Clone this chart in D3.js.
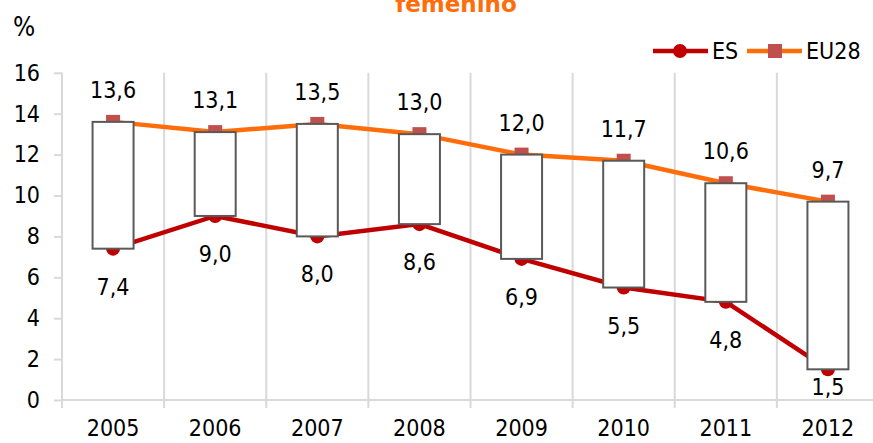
<!DOCTYPE html>
<html>
<head>
<meta charset="utf-8">
<script src="https://cdn.jsdelivr.net/npm/d3@7"></script>
<style>
  body { margin: 0; background: #fff; }
  svg { display: block; }
  text { font-family: 'DejaVu Sans Condensed', 'DejaVu Sans', sans-serif; fill: #000; }
</style>
</head>
<body>
<div id="chart"></div>
<script>
'use strict';

var years = ['2005', '2006', '2007', '2008', '2009', '2010', '2011', '2012'];
var esValues = [7.4, 9.0, 8.0, 8.6, 6.9, 5.5, 4.8, 1.5];
var eu28Values = [13.6, 13.1, 13.5, 13.0, 12.0, 11.7, 10.6, 9.7];
var yTicks = [0, 2, 4, 6, 8, 10, 12, 14, 16];

var width = 873;
var height = 443;
var plotLeft = 62;
var plotRight = 879;
var plotTop = 72.8;
var plotBottom = 400;

var esColor = '#C00000';
var eu28LineColor = '#FF6D0A';
var eu28MarkerColor = '#C0504D';
var gridColor = '#D9D9D9';
var boxStroke = '#595959';
var fontSize = 23;

var svg = d3.select('#chart').append('svg').attr('width', width).attr('height', height);

var x = d3.scaleBand().domain(years).range([plotLeft, plotRight]).padding(0);
var y = d3.scaleLinear().domain([0, 16]).range([plotBottom, plotTop]);
function cx(d) { return x(d) + x.bandwidth() / 2; }

// title, cut at the top like the original
svg.append('text').attr('x', 456).attr('y', 12).attr('text-anchor', 'middle')
  .style('font-family', "'DejaVu Sans', sans-serif").style('font-weight', 'bold')
  .style('font-size', fontSize + 'px').style('fill', '#FF6D0A').text('femenino');

svg.append('text').attr('x', 13).attr('y', 36).style('font-size', '26px').text('%');

// vertical gridlines between categories
var bounds = years.slice(1).map(function (d) { return x(d); });
svg.append('g').selectAll('line').data(bounds).enter().append('line')
  .attr('x1', function (d) { return d; }).attr('x2', function (d) { return d; })
  .attr('y1', plotTop).attr('y2', plotBottom + 8)
  .attr('stroke', gridColor).attr('stroke-width', 2);

// y axis
var yAxis = svg.append('g').attr('transform', 'translate(' + plotLeft + ',0)')
  .call(d3.axisLeft(y).tickValues(yTicks).tickSize(8).tickPadding(14).tickFormat(d3.format('d')));
yAxis.select('.domain').attr('stroke', gridColor).attr('stroke-width', 2).attr('d', 'M0,' + plotTop + 'V' + plotBottom);
yAxis.selectAll('.tick line').attr('stroke', gridColor).attr('stroke-width', 2);
yAxis.selectAll('.tick text').style('font-size', fontSize + 'px').attr('fill', '#000').attr('font-family', null);

// x axis
var xAxis = svg.append('g').attr('transform', 'translate(0,' + plotBottom + ')')
  .call(d3.axisBottom(x).tickSize(0).tickPadding(20));
xAxis.select('.domain').attr('stroke', gridColor).attr('stroke-width', 2).attr('d', 'M' + plotLeft + ',0H' + plotRight);
xAxis.selectAll('.tick text').style('font-size', fontSize + 'px').attr('fill', '#000').attr('font-family', null);
svg.append('line').attr('x1', plotLeft).attr('x2', plotLeft).attr('y1', plotBottom).attr('y2', plotBottom + 8)
  .attr('stroke', gridColor).attr('stroke-width', 2);

// lines
var line = function (vals) {
  return d3.line().x(function (d, i) { return cx(years[i]); }).y(function (d) { return y(d); })(vals);
};
svg.append('path').attr('d', line(eu28Values)).attr('fill', 'none').attr('stroke', eu28LineColor).attr('stroke-width', 4.5);
svg.append('path').attr('d', line(esValues)).attr('fill', 'none').attr('stroke', esColor).attr('stroke-width', 4.5);

// markers
svg.append('g').selectAll('rect').data(eu28Values).enter().append('rect')
  .attr('x', function (d, i) { return cx(years[i]) - 7; }).attr('y', function (d) { return y(d) - 7; })
  .attr('width', 14).attr('height', 14).attr('fill', eu28MarkerColor);
svg.append('g').selectAll('circle').data(esValues).enter().append('circle')
  .attr('cx', function (d, i) { return cx(years[i]); }).attr('cy', function (d) { return y(d); })
  .attr('r', 7).attr('fill', esColor);

// up-down bars
svg.append('g').selectAll('rect').data(years).enter().append('rect')
  .attr('x', function (d) { return cx(d) - 20.5; })
  .attr('y', function (d, i) { return y(Math.max(esValues[i], eu28Values[i])); })
  .attr('width', 41)
  .attr('height', function (d, i) { return Math.abs(y(esValues[i]) - y(eu28Values[i])); })
  .attr('fill', '#fff').attr('stroke', boxStroke).attr('stroke-width', 2);

// data labels (ES labels stay inside the plot area)
var fmt = function (v) { return v.toFixed(1).replace('.', ','); };
svg.append('g').selectAll('text').data(eu28Values).enter().append('text')
  .attr('x', function (d, i) { return cx(years[i]); }).attr('y', function (d) { return y(d) - 24; })
  .attr('text-anchor', 'middle').style('font-size', fontSize + 'px').text(fmt);
svg.append('g').selectAll('text').data(esValues).enter().append('text')
  .attr('x', function (d, i) { return cx(years[i]); }).attr('y', function (d) { return Math.min(y(d) + 46, plotBottom - 5); })
  .attr('text-anchor', 'middle').style('font-size', fontSize + 'px').text(fmt);

// legend
var legend = svg.append('g');
legend.append('line').attr('x1', 653).attr('x2', 708).attr('y1', 51).attr('y2', 51).attr('stroke', esColor).attr('stroke-width', 4.5);
legend.append('circle').attr('cx', 680).attr('cy', 51).attr('r', 7).attr('fill', esColor);
legend.append('text').attr('x', 712).attr('y', 59).style('font-size', fontSize + 'px').text('ES');
legend.append('line').attr('x1', 747).attr('x2', 802).attr('y1', 51).attr('y2', 51).attr('stroke', eu28LineColor).attr('stroke-width', 4.5);
legend.append('rect').attr('x', 768).attr('y', 44).attr('width', 14).attr('height', 14).attr('fill', eu28MarkerColor);
legend.append('text').attr('x', 806).attr('y', 59).style('font-size', fontSize + 'px').text('EU28');
</script>
</body>
</html>
